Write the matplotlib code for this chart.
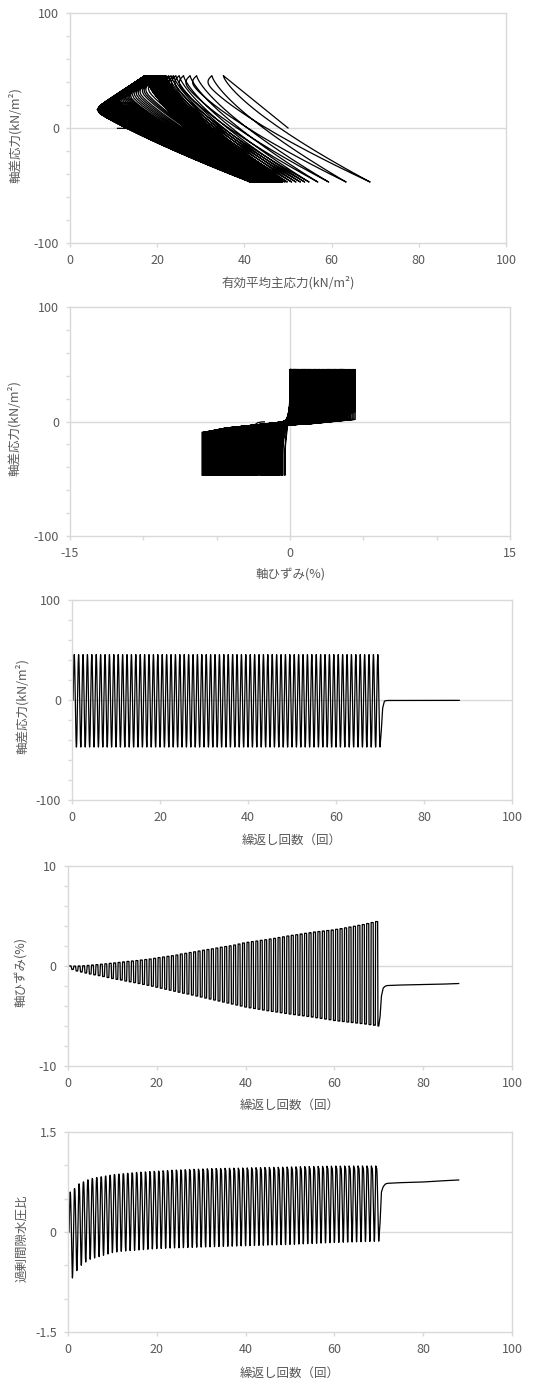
import numpy as np
import matplotlib.pyplot as plt

plt.rcParams['font.family'] = ['Noto Sans CJK JP', 'DejaVu Sans']

# initial effective mean stress and load amplitudes (kN/m2)
P0 = 50.0
Q_COMP = 45.5
Q_EXT = -47.0

# per-cycle peaks (cycles 1..70)
R_PEAK = [0.60, 0.70, 0.77, 0.80, 0.83, 0.85, 0.865, 0.875, 0.885, 0.895,
          0.905, 0.91, 0.915, 0.92, 0.925, 0.93, 0.933, 0.936, 0.94, 0.943,
          0.946, 0.949, 0.952, 0.955, 0.957, 0.959, 0.961, 0.963, 0.965, 0.967,
          0.969, 0.971, 0.972, 0.973, 0.974, 0.975, 0.976, 0.977, 0.978, 0.979,
          0.980, 0.981, 0.982, 0.983, 0.984, 0.985, 0.986, 0.987, 0.988, 0.989,
          0.990, 0.991, 0.992, 0.993, 0.994, 0.995, 0.996, 0.997, 0.998, 0.998,
          0.999, 0.999, 1.00, 1.00, 1.00, 1.00, 1.00, 1.00, 1.00, 1.00]
R_MIN = [-0.69, -0.58, -0.50, -0.45, -0.41, -0.39, -0.37, -0.35, -0.33, -0.31,
         -0.30, -0.29, -0.285, -0.28, -0.275, -0.27, -0.265, -0.26, -0.255, -0.25,
         -0.247, -0.244, -0.241, -0.239, -0.237, -0.235, -0.233, -0.231, -0.229, -0.227,
         -0.225, -0.223, -0.221, -0.219, -0.217, -0.215, -0.213, -0.211, -0.209, -0.207,
         -0.205, -0.203, -0.201, -0.199, -0.197, -0.195, -0.193, -0.191, -0.189, -0.187,
         -0.185, -0.182, -0.179, -0.176, -0.173, -0.170, -0.167, -0.164, -0.161, -0.158,
         -0.156, -0.154, -0.152, -0.150, -0.148, -0.146, -0.144, -0.142, -0.140, -0.138]
E_MAX = [0.02, 0.00, 0.01, 0.03, 0.06, 0.10, 0.14, 0.18, 0.22, 0.27,
         0.31, 0.36, 0.41, 0.46, 0.50, 0.55, 0.60, 0.65, 0.70, 0.77,
         0.84, 0.90, 0.97, 1.03, 1.10, 1.20, 1.27, 1.35, 1.42, 1.50,
         1.58, 1.65, 1.72, 1.80, 1.88, 1.95, 2.02, 2.10, 2.20, 2.30,
         2.37, 2.44, 2.50, 2.57, 2.63, 2.70, 2.77, 2.85, 2.92, 3.00,
         3.07, 3.13, 3.20, 3.27, 3.33, 3.40, 3.45, 3.50, 3.55, 3.60,
         3.67, 3.74, 3.82, 3.90, 3.98, 4.07, 4.15, 4.25, 4.35, 4.45]
E_MIN = [-0.35, -0.50, -0.60, -0.70, -0.80, -0.88, -0.96, -1.05, -1.15, -1.25,
         -1.33, -1.40, -1.50, -1.58, -1.66, -1.75, -1.84, -1.93, -2.02, -2.12,
         -2.22, -2.32, -2.42, -2.52, -2.62, -2.72, -2.80, -2.90, -3.00, -3.10,
         -3.20, -3.30, -3.40, -3.50, -3.60, -3.70, -3.80, -3.90, -4.00, -4.10,
         -4.18, -4.25, -4.32, -4.40, -4.47, -4.54, -4.60, -4.67, -4.74, -4.80,
         -4.86, -4.92, -4.98, -5.04, -5.10, -5.17, -5.24, -5.30, -5.37, -5.45,
         -5.50, -5.55, -5.60, -5.65, -5.70, -5.75, -5.80, -5.86, -5.92, -6.00]

# after cyclic loading stops
POST_T = [70.3, 70.6, 71.0, 71.5, 72.0, 75.0, 80.0, 85.0, 88.0]
POST_Q = [-30.0, -8.0, -1.0, -0.5, -0.4, -0.4, -0.3, -0.3, -0.3]
POST_E = [-5.0, -3.0, -2.2, -2.0, -1.95, -1.9, -1.85, -1.8, -1.75]
POST_R = [0.15, 0.60, 0.68, 0.72, 0.73, 0.74, 0.75, 0.77, 0.78]


def ramp(x):
    x = np.clip(x, 0, 1)
    return x * x * (3 - 2 * x)


def q_of_t(t):
    s = np.sin(2 * np.pi * (t - 0.25))
    return np.where(s >= 0, Q_COMP * s, -Q_EXT * s)


def shape(q):
    v = (Q_COMP - q) / (Q_COMP - Q_EXT)
    return np.clip(v, 0, 1) ** 1.35


n = 40
T, Q, P, E = [], [], [], []
p_trough = P0
e_trough = 0.0
for k in range(len(R_PEAK)):
    c = 60 * (1 - R_PEAK[k])
    # loading branch
    if k == 0:
        t = np.linspace(0.25, 0.5, n)
        q = q_of_t(t)
        p = P0 - P0 * R_PEAK[0] * q / Q_COMP + q / 3
        e = E_MAX[0] * q / Q_COMP
    else:
        t = np.linspace(k, k + 0.5, n)
        q = q_of_t(t)
        extra = 0.4 * np.clip((R_PEAK[k] - 0.85) / 0.15, 0, 1) ** 2.5
        p_v = P0 + Q_COMP / 3 - P0 * (R_PEAK[k] + extra)
        p_c = p_v + (p_trough - p_v) * shape(q)
        p_cap = P0 * (1 - R_PEAK[k]) + q / 2.5 - 1
        p = 1.5 * np.logaddexp(p_c / 1.5, p_cap / 1.5)
        qa, qb = -10 - c, 8 + c
        e = e_trough + (E_MAX[k] - e_trough) * ramp((q - qa) / (qb - qa))
    T.append(t); Q.append(q); P.append(p); E.append(e)
    p_top = p[-1]
    # unloading branch
    t = np.linspace(k + 0.5, k + 1.0, n)
    q = q_of_t(t)
    p_trough = P0 + Q_EXT / 3 - P0 * R_MIN[k]
    p = p_top + (p_trough - p_top) * shape(q)
    qa, qb = 2 + c, -9 - c
    e = E_MIN[k] + (E_MAX[k] - E_MIN[k]) * ramp((q - qb) / (qa - qb))
    e_trough = E_MIN[k]
    T.append(t); Q.append(q); P.append(p); E.append(e)

T = np.concatenate(T + [np.array(POST_T)])
Q = np.concatenate(Q + [np.array(POST_Q)])
post_p = P0 + np.array(POST_Q) / 3 - P0 * np.array(POST_R)
P = np.concatenate(P + [post_p])
E = np.concatenate(E + [np.array(POST_E)])
R = (P0 + Q / 3 - P) / P0

GRID = '#d9d9d9'
TXT = '#595959'
LW = 0.9
FS = 9

fig = plt.figure(figsize=(5.37, 13.83), dpi=100)


def setup(ax, xlim, xticks, xlabs, ylim, yticks, ylabs, xlabel, ylabel, xl_y, yl_x, vline=False):
    ax.set_xlim(xlim)
    ax.set_ylim(ylim)
    ax.set_xticks(xticks)
    ax.set_xticklabels(xlabs)
    ax.set_yticks(yticks)
    ax.set_yticklabels(ylabs)
    for sp in ax.spines.values():
        sp.set_color(GRID)
        sp.set_linewidth(1.0)
    ax.tick_params(length=3, width=1.0, color=GRID, labelcolor=TXT, labelsize=FS, pad=5)
    ax.axhline(0, color=GRID, lw=1.0, zorder=0)
    if vline:
        ax.axvline(0, color=GRID, lw=1.0, zorder=0)
    ax.set_xlabel(xlabel, color=TXT, fontsize=FS, va='center')
    ax.set_ylabel(ylabel, color=TXT, fontsize=FS, va='center')
    ax.xaxis.set_label_coords(0.5, xl_y)
    ax.yaxis.set_label_coords(yl_x, 0.47)


def blank(vals, keep):
    return [f'{v:g}' if v in keep else '' for v in vals]


yq = list(range(-100, 101, 20))
x100 = list(range(0, 101, 20))

ax1 = fig.add_axes([0.1304, 0.8243, 0.8119, 0.1663])
ax1.plot(P, Q, color='black', lw=LW)
setup(ax1, (0, 100), x100, [str(v) for v in x100], (-100, 100), yq,
      blank(yq, [-100, 0, 100]), '有効平均主応力(kN/m²)', '軸差応力(kN/m²)', -0.174, -0.126)

ax2 = fig.add_axes([0.1304, 0.6124, 0.8194, 0.1656])
ax2.plot(E, Q, color='black', lw=LW)
xs = list(range(-15, 16, 5))
setup(ax2, (-15, 15), xs, blank(xs, [-15, 0, 15]), (-100, 100), yq,
      blank(yq, [-100, 0, 100]), '軸ひずみ(%)', '軸差応力(kN/m²)', -0.17, -0.126, vline=True)

ax3 = fig.add_axes([0.1341, 0.4215, 0.8194, 0.1446])
ax3.plot(T, Q, color='black', lw=LW)
setup(ax3, (0, 100), x100, [str(v) for v in x100], (-100, 100), yq,
      blank(yq, [-100, 0, 100]), '繰返し回数（回）', '軸差応力(kN/m²)', -0.2, -0.114)

ax4 = fig.add_axes([0.1266, 0.2292, 0.8268, 0.1446])
ax4.plot(T, E, color='black', lw=LW)
ye = list(range(-10, 11, 2))
setup(ax4, (0, 100), x100, [str(v) for v in x100], (-10, 10), ye,
      blank(ye, [-10, 0, 10]), '繰返し回数（回）', '軸ひずみ(%)', -0.195, -0.104)

ax5 = fig.add_axes([0.1266, 0.0369, 0.8268, 0.1446])
ax5.plot(T, R, color='black', lw=LW)
yr = [-1.5, -1.0, -0.5, 0.0, 0.5, 1.0, 1.5]
setup(ax5, (0, 100), x100, [str(v) for v in x100], (-1.5, 1.5), yr,
      ['-1.5', '', '', '0', '', '', '1.5'], '繰返し回数（回）', '過剰間隙水圧比', -0.205, -0.104)

fig.savefig('out.png', dpi=100)
